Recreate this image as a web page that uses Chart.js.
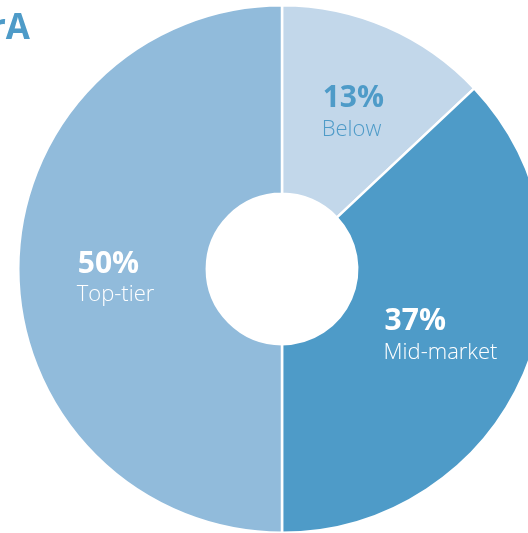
<!DOCTYPE html>
<html>
<head>
<meta charset="utf-8">
<script src="https://cdn.jsdelivr.net/npm/chart.js@4/dist/chart.umd.min.js"></script>
<style>
  html, body { margin: 0; padding: 0; background: #fff; overflow: hidden; width: 528px; height: 533px; }
  #wrap { position: absolute; left: 0; top: 0; width: 564px; height: 538px; }
  #title { position: absolute; right: calc(100% - 30px); top: 2px; font: bold 35px "Open Sans", sans-serif; color: #4e9bc8; white-space: nowrap; z-index: 2; }
</style>
</head>
<body>
<div id="title">rA</div>
<div id="wrap"><canvas id="tierChart" width="564" height="538"></canvas></div>
<script>
// Data
const categories = ['Below', 'Mid-market', 'Top-tier'];
const shares = [13, 37, 50];
const sliceColors = ['#c2d7ea', '#4e9bc8', '#91bbdb'];
const labelColors = ['#4e9bc8', '#ffffff', '#ffffff'];

// Draws "NN%" + category inside each slice, left-aligned block centred on the slice
const sliceLabels = {
    id: 'sliceLabels',
    afterDatasetsDraw(chart) {
        const ctx = chart.ctx;
        const meta = chart.getDatasetMeta(0);
        meta.data.forEach((arc, i) => {
            const pos = arc.tooltipPosition();
            const pct = shares[i] + '%';
            const name = categories[i];
            ctx.save();
            ctx.font = 'bold 30px "Open Sans", sans-serif';
            const w1 = ctx.measureText(pct).width;
            ctx.font = '300 22px "Open Sans", sans-serif';
            const w2 = ctx.measureText(name).width;
            const left = pos.x - Math.max(w1, w2) / 2 + 3;
            const dy = i === 2 ? 11 : 1;
            ctx.fillStyle = labelColors[i];
            ctx.textAlign = 'left';
            ctx.textBaseline = 'middle';
            ctx.font = 'bold 30px "Open Sans", sans-serif';
            ctx.fillText(pct, left + 1, pos.y - 16 + dy);
            ctx.font = '300 22px "Open Sans", sans-serif';
            ctx.fillText(name, left, pos.y + 15 + dy);
            ctx.restore();
        });
    }
};

new Chart(document.getElementById('tierChart').getContext('2d'), {
    type: 'doughnut',
    data: {
        labels: categories,
        datasets: [{
            data: shares,
            backgroundColor: sliceColors,
            borderColor: '#ffffff',
            borderWidth: 2.5
        }]
    },
    options: {
        responsive: false,
        animation: false,
        cutout: '28.5%',
        layout: { padding: 4 },
        plugins: {
            legend: { display: false },
            tooltip: { enabled: false }
        }
    },
    plugins: [sliceLabels]
});
</script>
</body>
</html>
